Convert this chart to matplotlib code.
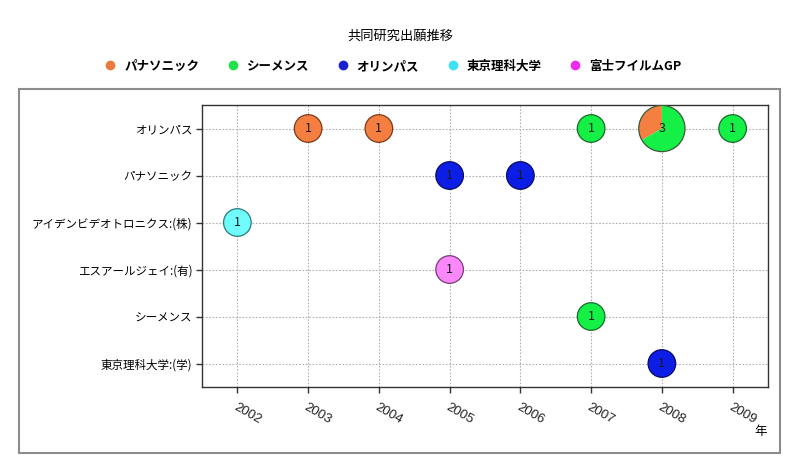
import matplotlib
matplotlib.use("Agg")
import matplotlib.pyplot as plt
import matplotlib.patches as mpatches
import matplotlib.transforms as mtransforms
from matplotlib.lines import Line2D
import numpy as np

plt.rcParams['font.family'] = ['Noto Sans CJK JP', 'DejaVu Sans']

title = '共同研究出願推移'
rows = ['オリンパス', 'パナソニック', 'アイデンビデオトロニクス:(株)',
        'エスアールジェイ:(有)', 'シーメンス', '東京理科大学:(学)']
years = [2002, 2003, 2004, 2005, 2006, 2007, 2008, 2009]
partners = ['パナソニック', 'シーメンス', 'オリンパス', '東京理科大学', '富士フイルムGP']
legend_colors = ['#ea7a3e', '#22e04a', '#1a22d0', '#3ee0f4', '#ee2cee']
bubble_colors = ['#f47f40', '#14f046', '#0c1ee6', '#70fcfc', '#fa88fa']
edge_colors = ['#7a3a1a', '#1a6a2a', '#0a0a60', '#2a7a7a', '#7a3a7a']

rec_row = ['オリンパス', 'オリンパス', 'オリンパス', 'オリンパス', 'オリンパス', 'オリンパス',
           'パナソニック', 'パナソニック', 'アイデンビデオトロニクス:(株)',
           'エスアールジェイ:(有)', 'シーメンス', '東京理科大学:(学)']
rec_year = [2003, 2004, 2007, 2008, 2008, 2009, 2005, 2006, 2002, 2005, 2007, 2008]
rec_partner = ['パナソニック', 'パナソニック', 'シーメンス', 'パナソニック', 'シーメンス', 'シーメンス',
               'オリンパス', 'オリンパス', '東京理科大学', '富士フイルムGP', 'シーメンス', 'オリンパス']
rec_count = [1, 1, 1, 1, 2, 1, 1, 1, 1, 1, 1, 1]
xlabel = '年'

fig = plt.figure(figsize=(8, 4.73), dpi=100)
fig.patch.set_facecolor('white')

# outer frame
frame = mpatches.Rectangle((0.024, 0.042), 0.951, 0.770, transform=fig.transFigure,
                           fill=False, edgecolor='#8c8c8c', lw=1.5)
fig.patches.append(frame)

ax = fig.add_axes([0.2525, 0.1818, 0.7075, 0.5962])
ypos = {r: i for i, r in enumerate(rows)}
ax.set_xlim(years[0] - 0.5, years[-1] + 0.5)
ax.set_ylim(len(rows) - 0.5, -0.5)
ax.set_xticks(years)
ax.set_xticklabels([str(y) for y in years], rotation=-30, ha='left', va='top',
                   rotation_mode='anchor', fontsize=9.5, color='#222222',
                   family=['Liberation Sans', 'DejaVu Sans'])
shift = mtransforms.ScaledTranslation(3 / 72, -2 / 72, fig.dpi_scale_trans)
for lab in ax.get_xticklabels():
    lab.set_transform(lab.get_transform() + shift)
ax.set_yticks(range(len(rows)))
ax.set_yticklabels(rows, fontsize=8.3, color='#000000')
ax.tick_params(direction='out', length=4, width=1, color='#333333', pad=3)
ax.tick_params(axis='x', pad=6)
ax.grid(True, linestyle=(0, (1.5, 1.5)), color='#b0b0b0', lw=0.8)
ax.set_axisbelow(True)
for s in ax.spines.values():
    s.set_color('#333333')
    s.set_linewidth(1.0)

# group records by cell
cells = {}
for r, y, p, c in zip(rec_row, rec_year, rec_partner, rec_count):
    cells.setdefault((r, y), []).append((p, c))

base_r = 13.8  # px radius for count 1
for (r, y), items in cells.items():
    total = sum(c for _, c in items)
    rad = base_r * total ** 0.47
    trans = mtransforms.Affine2D().scale(rad) + \
        mtransforms.ScaledTranslation(y, ypos[r], ax.transData)
    start = 90.0
    if len(items) == 1:
        p, c = items[0]
        k = partners.index(p)
        circ = mpatches.Circle((0, 0), 1, transform=trans, facecolor=bubble_colors[k],
                               edgecolor=edge_colors[k], lw=0.9, zorder=3)
        ax.add_artist(circ)
    else:
        for p, c in items:
            k = partners.index(p)
            ang = 360.0 * c / total
            w = mpatches.Wedge((0, 0), 1, start, start + ang, transform=trans,
                               facecolor=bubble_colors[k], edgecolor='none', zorder=3)
            ax.add_artist(w)
            start += ang
        circ = mpatches.Circle((0, 0), 1, transform=trans, facecolor='none',
                               edgecolor='#3a5a3a', lw=0.9, zorder=4)
        ax.add_artist(circ)
    ax.text(y, ypos[r], str(total), ha='center', va='center', fontsize=9,
            color='#1a1a1a', zorder=5)

fig.text(0.5, 0.924, title, ha='center', va='center', fontsize=9.5, color='#000000')

handles = [Line2D([], [], marker='o', linestyle='none', markersize=6,
                  markerfacecolor=c, markeredgecolor=c) for c in legend_colors]
fig.legend(handles, partners, loc='center', bbox_to_anchor=(0.491, 0.86), ncol=5,
           frameon=False, prop={'size': 9, 'weight': 'bold'},
           handletextpad=0.6, columnspacing=2.2, handlelength=1.0)

fig.text(0.951, 0.087, xlabel, ha='center', va='center', fontsize=9, color='#000000')

fig.savefig('out.png', dpi=100, facecolor='white')
